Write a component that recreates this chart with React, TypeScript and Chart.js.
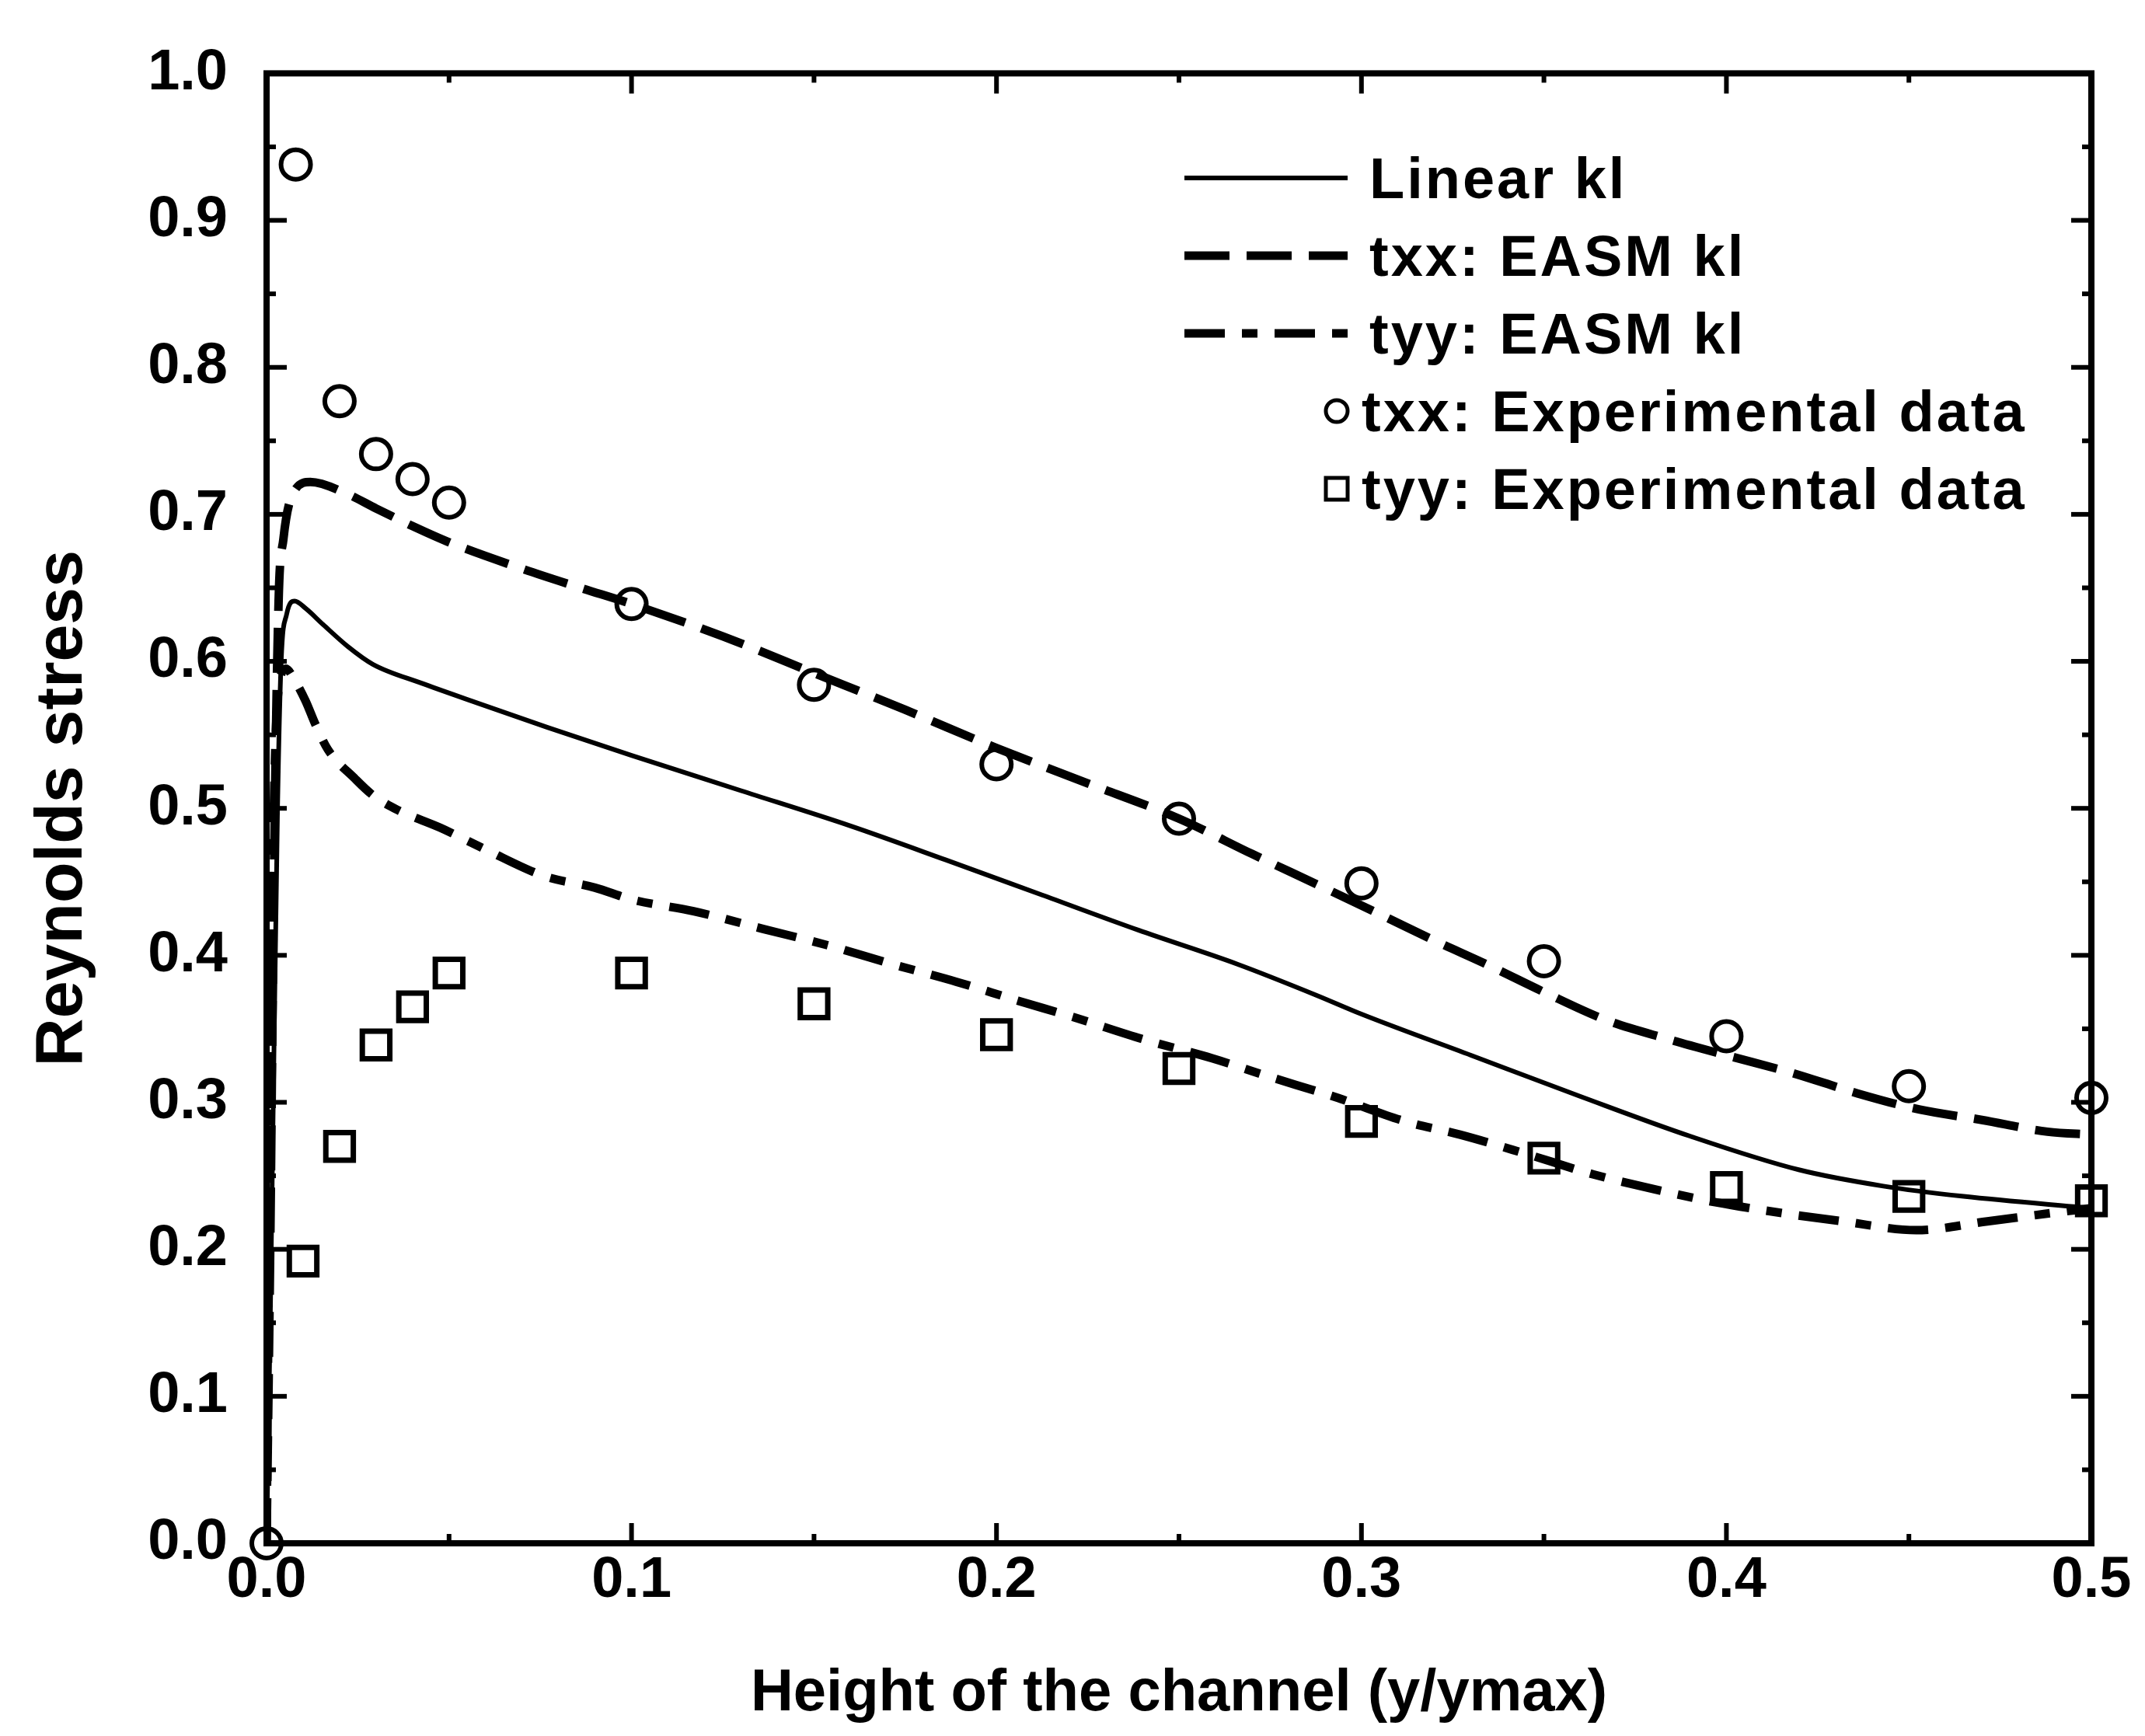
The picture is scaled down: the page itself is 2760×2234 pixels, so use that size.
import React, { useEffect, useRef } from "react";
import { Chart, registerables } from "chart.js";

Chart.register(...registerables);

const W = 2760;
const H = 2234;
const FONT = "'Liberation Sans', Arial, Helvetica, sans-serif";

// ---- Data ----
const linearX = [0, 0.001, 0.002, 0.003, 0.004, 0.0055, 0.0077, 0.0107, 0.0155, 0.0223, 0.0291, 0.0426, 0.0562, 0.077, 0.1, 0.13, 0.16, 0.186, 0.2125, 0.239, 0.266, 0.2875, 0.3, 0.33, 0.36, 0.39, 0.42, 0.443, 0.465, 0.5];
const linearY = [0, 0.15, 0.33, 0.5, 0.6, 0.632, 0.641, 0.636, 0.625, 0.61, 0.598, 0.585, 0.573, 0.555, 0.536, 0.512, 0.488, 0.465, 0.441, 0.417, 0.394, 0.373, 0.36, 0.332, 0.304, 0.277, 0.254, 0.243, 0.236, 0.228];

const txxEasmX = [0, 0.001, 0.002, 0.0033, 0.0046, 0.007, 0.012, 0.022, 0.03, 0.04, 0.05, 0.07, 0.086, 0.1, 0.125, 0.15, 0.175, 0.2, 0.225, 0.25, 0.27, 0.288, 0.305, 0.32, 0.335, 0.35, 0.367, 0.384, 0.4, 0.418, 0.436, 0.453, 0.47, 0.488, 0.5];
const txxEasmY = [0, 0.2, 0.45, 0.641, 0.683, 0.713, 0.722, 0.714, 0.704, 0.692, 0.681, 0.663, 0.65, 0.639, 0.617, 0.592, 0.567, 0.541, 0.517, 0.493, 0.469, 0.448, 0.428, 0.41, 0.393, 0.375, 0.356, 0.343, 0.332, 0.32, 0.306, 0.295, 0.288, 0.28, 0.278];

const tyyEasmX = [0, 0.001, 0.002, 0.0035, 0.0053, 0.0075, 0.0107, 0.0134, 0.0168, 0.0243, 0.0291, 0.0358, 0.0474, 0.06, 0.076, 0.09, 0.1, 0.117, 0.136, 0.155, 0.17, 0.189, 0.206, 0.221, 0.24, 0.259, 0.274, 0.2935, 0.312, 0.327, 0.345, 0.3635, 0.38, 0.397, 0.417, 0.432, 0.452, 0.4715, 0.487, 0.5];
const tyyEasmY = [0, 0.3, 0.5, 0.585, 0.595, 0.588, 0.573, 0.557, 0.54, 0.52, 0.509, 0.499, 0.487, 0.472, 0.454, 0.446, 0.438, 0.43, 0.418, 0.406, 0.395, 0.382, 0.369, 0.358, 0.343, 0.33, 0.318, 0.303, 0.287, 0.278, 0.265, 0.251, 0.241, 0.232, 0.224, 0.219, 0.213, 0.219, 0.224, 0.228];

const txxExpX = [0, 0.008, 0.02, 0.03, 0.04, 0.05, 0.1, 0.15, 0.2, 0.25, 0.3, 0.35, 0.4, 0.45, 0.5];
const txxExpY = [0, 0.938, 0.777, 0.741, 0.724, 0.708, 0.639, 0.584, 0.53, 0.493, 0.449, 0.396, 0.345, 0.311, 0.303];

const tyyExpX = [0.01, 0.02, 0.03, 0.04, 0.05, 0.1, 0.15, 0.2, 0.25, 0.3, 0.35, 0.4, 0.45, 0.5];
const tyyExpY = [0.192, 0.27, 0.339, 0.365, 0.388, 0.388, 0.367, 0.346, 0.323, 0.287, 0.262, 0.242, 0.236, 0.233];

const seriesLabels = [
  "Linear kl",
  "txx: EASM kl",
  "tyy: EASM kl",
  "txx: Experimental data",
  "tyy: Experimental data",
];

const xMajorTicks = [0, 0.1, 0.2, 0.3, 0.4, 0.5];
const xMinorTicks = [0.05, 0.15, 0.25, 0.35, 0.45];
const yMajorTicks = [0, 0.1, 0.2, 0.3, 0.4, 0.5, 0.6, 0.7, 0.8, 0.9, 1.0];
const yMinorTicks = [0.05, 0.15, 0.25, 0.35, 0.45, 0.55, 0.65, 0.75, 0.85, 0.95];

const xTitle = "Height of the channel (y/ymax)";
const yTitle = "Reynolds stress";

const toPoints = (xs: number[], ys: number[]) => xs.map((x, i) => ({ x, y: ys[i] }));

// ---- Plugins ----
const MAJOR_LEN = 26;
const MINOR_LEN = 12;

const frameTicksPlugin = {
  id: "frameTicks",
  afterDatasetsDraw(chart: any) {
    const { ctx, chartArea: a, scales } = chart;
    const xs = scales.x;
    const ys = scales.y;
    ctx.save();
    ctx.strokeStyle = "#000";
    ctx.lineCap = "butt";
    ctx.setLineDash([]);
    const seg = (x1: number, y1: number, x2: number, y2: number) => {
      ctx.beginPath();
      ctx.moveTo(x1, y1);
      ctx.lineTo(x2, y2);
      ctx.stroke();
    };
    ctx.lineWidth = 6;
    const xt = (vals: number[], len: number) =>
      vals.forEach((v) => {
        const p = xs.getPixelForValue(v);
        seg(p, a.bottom, p, a.bottom - len);
        seg(p, a.top, p, a.top + len);
      });
    const yt = (vals: number[], len: number) =>
      vals.forEach((v) => {
        const p = ys.getPixelForValue(v);
        seg(a.left, p, a.left + len, p);
        seg(a.right, p, a.right - len, p);
      });
    xt(xMajorTicks, MAJOR_LEN);
    xt(xMinorTicks, MINOR_LEN);
    yt(yMajorTicks, MAJOR_LEN);
    yt(yMinorTicks, MINOR_LEN);
    ctx.lineWidth = 8;
    ctx.strokeRect(a.left, a.top, a.right - a.left, a.bottom - a.top);
    ctx.restore();
  },
};

const LEG = {
  lineX0: 1524,
  lineX1: 1734,
  markerX: 1720,
  markerRadius: 14,
  markerBorder: 5,
  textXLine: 1762,
  textXMarker: 1752,
  rowY0: 229,
  rowH: 100,
  fontSize: 74,
  spacing: 3,
};

const insideLegendPlugin = {
  id: "insideLegend",
  afterDraw(chart: any) {
    const { ctx } = chart;
    const ds = chart.data.datasets;
    ctx.save();
    ctx.font = `bold ${LEG.fontSize}px ${FONT}`;
    try {
      (ctx as any).letterSpacing = `${LEG.spacing}px`;
    } catch (e) {}
    ctx.fillStyle = "#000";
    ctx.textAlign = "left";
    ctx.textBaseline = "alphabetic";
    ds.forEach((d: any, i: number) => {
      const y = LEG.rowY0 + i * LEG.rowH;
      const base = y + 0.358 * LEG.fontSize;
      if (d.showLine !== false) {
        ctx.strokeStyle = d.borderColor;
        ctx.lineWidth = d.borderWidth;
        ctx.lineCap = "butt";
        ctx.setLineDash(d.borderDash || []);
        ctx.beginPath();
        ctx.moveTo(LEG.lineX0, y);
        ctx.lineTo(LEG.lineX1, y);
        ctx.stroke();
        ctx.setLineDash([]);
        ctx.fillText(d.label, LEG.textXLine, base);
      } else {
        ctx.strokeStyle = d.pointBorderColor;
        ctx.lineWidth = LEG.markerBorder;
        ctx.setLineDash([]);
        ctx.beginPath();
        if (d.pointStyle === "circle") {
          ctx.arc(LEG.markerX, y, LEG.markerRadius, 0, Math.PI * 2);
        } else {
          const h = LEG.markerRadius;
          ctx.rect(LEG.markerX - h, y - h, 2 * h, 2 * h);
        }
        ctx.stroke();
        ctx.fillText(d.label, LEG.textXMarker, base);
      }
    });
    ctx.restore();
  },
};

export default function App() {
  const ref = useRef<HTMLCanvasElement | null>(null);

  useEffect(() => {
    const canvas = ref.current;
    if (!canvas) return;
    const tickFont = { family: FONT, size: 74, weight: "bold" as const };
    const xTitleFont = { family: FONT, size: 76, weight: "bold" as const };
    const yTitleFont = { family: FONT, size: 86, weight: "bold" as const };

    const chart = new Chart(canvas, {
      type: "line",
      data: {
        datasets: [
          {
            label: seriesLabels[0],
            data: toPoints(linearX, linearY),
            borderColor: "#000",
            borderWidth: 6,
            pointRadius: 0,
            fill: false,
            cubicInterpolationMode: "monotone",
          },
          {
            label: seriesLabels[1],
            data: toPoints(txxEasmX, txxEasmY),
            borderColor: "#000",
            borderWidth: 11,
            borderDash: [58, 22],
            pointRadius: 0,
            fill: false,
            cubicInterpolationMode: "monotone",
          },
          {
            label: seriesLabels[2],
            data: toPoints(tyyEasmX, tyyEasmY),
            borderColor: "#000",
            borderWidth: 11,
            borderDash: [52, 22, 20, 22],
            pointRadius: 0,
            fill: false,
            cubicInterpolationMode: "monotone",
          },
          {
            label: seriesLabels[3],
            data: toPoints(txxExpX, txxExpY),
            showLine: false,
            pointStyle: "circle",
            pointRadius: 19,
            pointBorderWidth: 6,
            pointBorderColor: "#000",
            pointBackgroundColor: "rgba(0,0,0,0)",
            clip: false,
          },
          {
            label: seriesLabels[4],
            data: toPoints(tyyExpX, tyyExpY),
            showLine: false,
            pointStyle: "rect",
            pointRadius: 25,
            pointBorderWidth: 7,
            pointBorderColor: "#000",
            pointBackgroundColor: "rgba(0,0,0,0)",
            clip: false,
          },
        ] as any,
      },
      options: {
        responsive: false,
        animation: false,
        devicePixelRatio: 1,
        layout: { padding: { left: 0, top: 62, right: 69, bottom: 0 } },
        plugins: {
          legend: { display: false },
          tooltip: { enabled: false },
        },
        scales: {
          x: {
            type: "linear",
            min: 0,
            max: 0.5,
            afterFit: (s: any) => {
              s.height = H - 1986;
            },
            afterBuildTicks: (s: any) => {
              s.ticks = xMajorTicks.map((v) => ({ value: v }));
            },
            ticks: {
              callback: (v: any) => Number(v).toFixed(1),
              font: tickFont,
              color: "#000",
              padding: 4,
              maxRotation: 0,
              autoSkip: false,
            },
            grid: { display: false, drawTicks: false },
            border: { display: false },
            title: {
              display: true,
              text: xTitle,
              font: xTitleFont,
              color: "#000",
              padding: { top: 0, bottom: 8 },
            },
          },
          y: {
            type: "linear",
            min: 0,
            max: 1,
            afterFit: (s: any) => {
              s.width = 343;
            },
            afterBuildTicks: (s: any) => {
              s.ticks = yMajorTicks.map((v) => ({ value: v }));
            },
            ticks: {
              callback: (v: any) => Number(v).toFixed(1),
              font: tickFont,
              color: "#000",
              padding: 50,
              autoSkip: false,
            },
            grid: { display: false, drawTicks: false },
            border: { display: false },
            title: {
              display: true,
              text: yTitle,
              font: yTitleFont,
              color: "#000",
              padding: { top: 30, bottom: 0 },
            },
          },
        },
      },
      plugins: [frameTicksPlugin, insideLegendPlugin],
    });
    return () => chart.destroy();
  }, []);

  return (
    <div style={{ position: "fixed", left: 0, top: 0, width: W, height: H, background: "#fff" }}>
      <canvas ref={ref} width={W} height={H} style={{ width: W, height: H, display: "block" }} />
    </div>
  );
}
